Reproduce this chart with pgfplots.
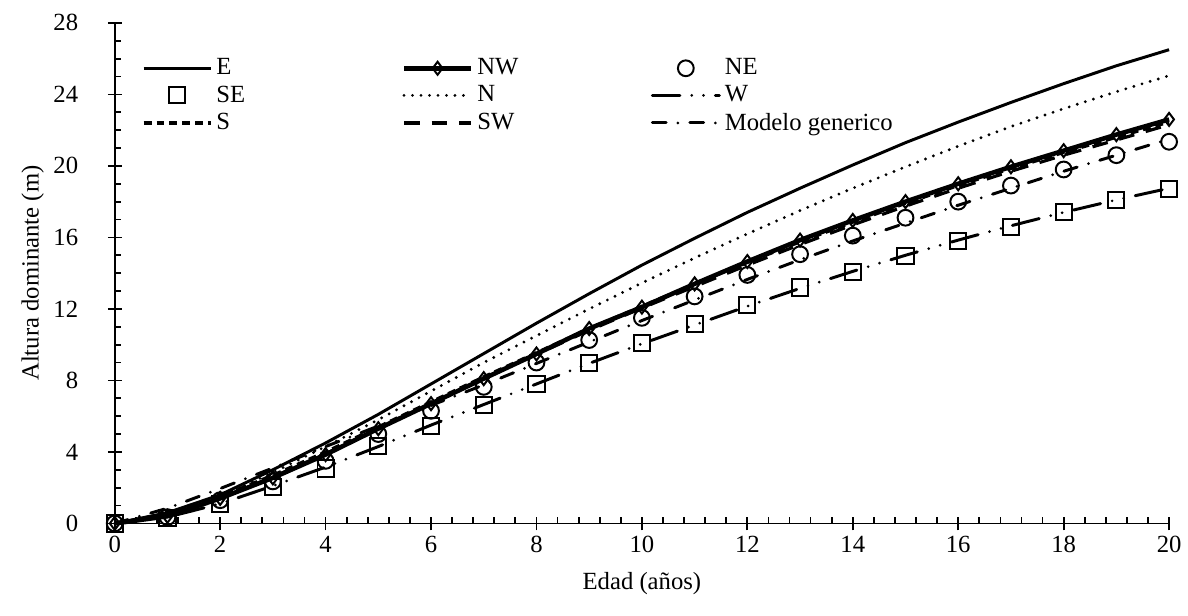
\documentclass[border=0pt]{standalone}
\usepackage{pgfplots}
\pgfplotsset{compat=1.18}
\usepackage{pgfplotstable}
\usepackage{fontspec}
\setmainfont{Liberation Serif}
\begin{document}
% altura dominante por exposicion
\pgfplotstableread{
x  E     NW    NE    SE    N     W     S     SW    G
0  0     0     0     0     0     0     0     0     0
1  0.60  0.40  0.35  0.30  0.55  0.35  0.50  0.45  0.85
2  1.60  1.40  1.30  1.10  1.50  1.10  1.50  1.40  1.95
3  3.00  2.55  2.35  2.05  2.85  2.10  2.70  2.60  3.10
4  4.50  3.85  3.50  3.07  4.30  3.15  4.00  3.90  4.30
5  6.10  5.30  5.00  4.35  5.80  4.30  5.40  5.30  5.45
6  7.80  6.70  6.30  5.47  7.40  5.50  6.80  6.70  6.60
7  9.50  8.10  7.64  6.64  9.00  6.65  8.20  8.10  7.75
8  11.20 9.48  9.00  7.80  10.50 7.80  9.55  9.45  8.95
9  12.85 10.90 10.26 8.98  12.00 8.95  10.90 10.80 10.15
10 14.45 12.10 11.50 10.10 13.45 10.05 12.15 12.05 11.35
11 15.95 13.40 12.70 11.15 14.85 11.10 13.40 13.25 12.50
12 17.40 14.65 13.90 12.20 16.20 12.15 14.60 14.45 13.65
13 18.75 15.85 15.06 13.20 17.50 13.15 15.75 15.60 14.75
14 20.05 16.95 16.10 14.05 18.75 14.10 16.85 16.70 15.80
15 21.30 18.00 17.10 14.95 19.95 15.00 17.90 17.75 16.80
16 22.45 19.00 18.00 15.80 21.10 15.85 18.90 18.75 17.80
17 23.55 19.95 18.90 16.60 22.20 16.65 19.85 19.70 18.75
18 24.60 20.85 19.80 17.40 23.20 17.40 20.75 20.60 19.70
19 25.60 21.75 20.60 18.10 24.15 18.10 21.60 21.45 20.60
20 26.50 22.60 21.35 18.70 25.05 18.75 22.45 22.30 21.50
}\alturas
\begin{tikzpicture}
\begin{axis}[
  scale only axis,
  width=534pt, height=253.5pt,
  font=\fontsize{12.5}{15}\selectfont,
  xmin=0, xmax=20, ymin=0, ymax=28,
  axis lines=left,
  axis line style={-, line width=0.9pt},
  xtick={0,2,...,20}, ytick={0,4,...,28},
  minor x tick num=4, minor y tick num=3,
  tick align=inside,
  major tick length=7pt, minor tick length=3pt,
  tick style={line width=0.9pt, black},
  every major x tick/.append style={yshift=-3.5pt},
  every major y tick/.append style={xshift=-3.5pt},
  /pgf/number format/assume math mode=true,
  xticklabel style={yshift=-3pt},
  yticklabel style={xshift=-15pt},
  xlabel={Edad (años)}, ylabel={Altura dominante (m)},
  xlabel style={yshift=-3pt},
  ylabel style={yshift=-2pt},
  clip=false,
  legend columns=3,
  legend cell align=left,
  legend style={draw=none, fill=none, at={(0.02,0.945)}, anchor=north west,
    row sep=0pt,
    /tikz/column 2/.style={column sep=77.3pt},
    /tikz/column 4/.style={column sep=65pt}},
  legend image code/.code={\draw[mark repeat=2,mark phase=2,#1] plot coordinates {(0pt,0pt) (17pt,0pt) (34pt,0pt)};},
]
\addplot[black, line width=1.5pt] table[y=E] {\alturas};
\addplot[black, line width=2.3pt, mark=diamond, mark size=3.3pt, mark options={solid, line width=1pt, fill=white}] table[y=NW] {\alturas};
\addplot[black, only marks, mark=o, mark size=4pt, mark options={line width=1pt}] table[y=NE] {\alturas};
\addplot[black, only marks, mark=square, mark size=4.1pt, mark options={line width=1pt}] table[y=SE] {\alturas};
\addplot[black, line width=1.6pt, line cap=round, dash pattern=on 0pt off 4.3pt] table[y=N] {\alturas};
\addplot[black, line width=1.5pt, line cap=round, dash pattern=on 14pt off 6pt on 0pt off 6pt on 0pt off 6pt] table[y=W] {\alturas};
\addplot[black, line width=1.6pt, dash pattern=on 4pt off 2.5pt] table[y=S] {\alturas};
\addplot[black, line width=1.6pt, dash pattern=on 8pt off 6pt] table[y=SW] {\alturas};
\addplot[black, line width=1.5pt, line cap=round, dash pattern=on 7pt off 6pt on 0pt off 6pt] table[y=G] {\alturas};
\legend{E, NW, NE, SE, N, W, S, SW, Modelo generico}
\end{axis}
\path ([xshift=-58.1pt,yshift=-46.5pt]current axis.south west) rectangle ([xshift=8.1pt,yshift=11.6pt]current axis.north east);
\end{tikzpicture}
\end{document}
